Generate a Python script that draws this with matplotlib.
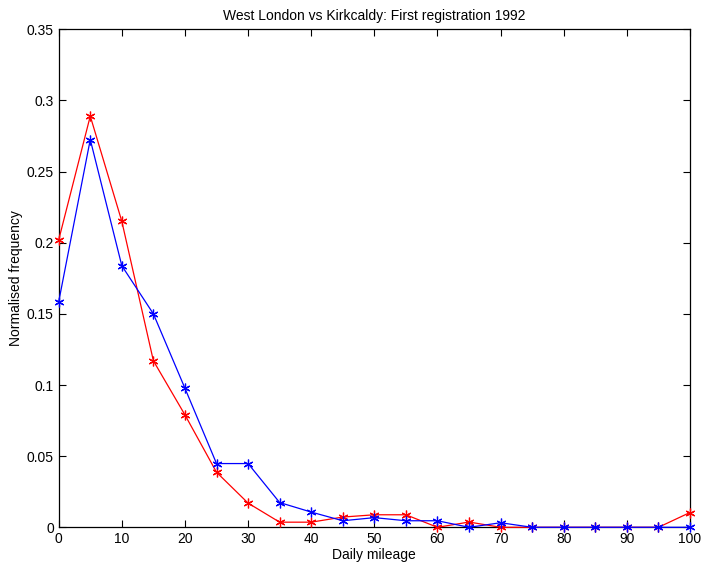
import matplotlib
matplotlib.use("Agg")
import matplotlib.pyplot as plt

mileage = [0, 5, 10, 15, 20, 25, 30, 35, 40, 45, 50, 55, 60, 65, 70, 75, 80, 85, 90, 95, 100]
west_london = [0.202, 0.289, 0.215, 0.117, 0.079, 0.0387, 0.017, 0.0036, 0.0036, 0.0072, 0.0088,
               0.0088, 0.0, 0.0037, 0.0, 0.0, 0.0, 0.0, 0.0, 0.0, 0.0104]
kirkcaldy = [0.1585, 0.2725, 0.1838, 0.150, 0.0977, 0.0448, 0.0448, 0.0174, 0.0107, 0.0046, 0.0068,
             0.0046, 0.0046, 0.0, 0.0032, 0.0, 0.0, 0.0, 0.0, 0.0, 0.0]
xticks = [0, 10, 20, 30, 40, 50, 60, 70, 80, 90, 100]
yticks = [0, 0.05, 0.1, 0.15, 0.2, 0.25, 0.3, 0.35]
ytick_labels = ["0", "0.05", "0.1", "0.15", "0.2", "0.25", "0.3", "0.35"]

plt.rcParams['font.family'] = ['Liberation Sans', 'DejaVu Sans']
fig = plt.figure(figsize=(7.02, 5.64), dpi=100)
ax = fig.add_axes([58.7 / 702, 1 - 527.3 / 564, (690 - 58.7) / 702, (527.3 - 29.3) / 564])

for vals, col in [(west_london, 'red'), (kirkcaldy, 'blue')]:
    ax.plot(mileage, vals, color=col, marker=(6, 2, 0), markersize=7, linewidth=0.9,
            markeredgewidth=0.9, clip_on=False, zorder=3)

ax.set_xlim(0, 100)
ax.set_ylim(0, 0.35)
ax.set_xticks(xticks)
ax.set_yticks(yticks)
ax.set_yticklabels(ytick_labels)
ax.tick_params(direction='in', top=True, right=True, length=5, width=0.8, labelsize=10,
               colors='black', pad=3.5)
for s in ax.spines.values():
    s.set_linewidth(0.9)
ax.set_xlabel('Daily mileage', fontsize=10, labelpad=1.5)
ax.set_ylabel('Normalised frequency', fontsize=10, labelpad=2.5)
ax.set_title('West London vs Kirkcaldy: First registration 1992', fontsize=10, pad=7)

fig.savefig('out.png', dpi=100)
